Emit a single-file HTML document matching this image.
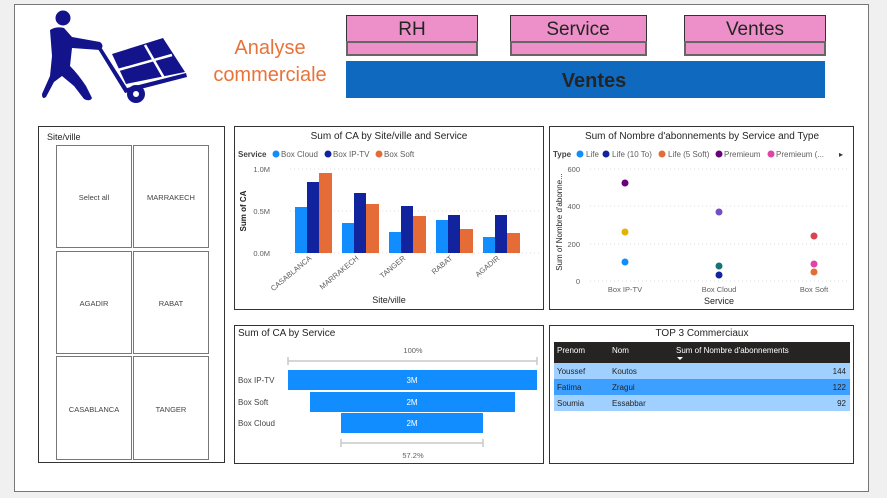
<!DOCTYPE html>
<html><head><meta charset="utf-8"><style>
html,body{margin:0;padding:0;background:#f0f0f0;}
svg{display:block;font-family:"Liberation Sans",sans-serif;}
</style></head><body>
<svg width="887" height="498" viewBox="0 0 887 498" xmlns="http://www.w3.org/2000/svg">
<rect x="0" y="0" width="887" height="498" fill="#f0f0f0"/>
<rect x="14.5" y="4.5" width="854" height="487" fill="#fff" stroke="#777" stroke-width="1"/>
<!-- icon -->
<g fill="#13138c">
<circle cx="63" cy="18" r="7.5"/>
<path d="M50 30 Q56 26 64 28 L72 37 L100 42 Q105 46 100 50 L72 48 L70 66 Q78 74 86 86 L92 98 Q90 102 84 99 L74 86 L62 76 L54 82 L46 97 Q42 100 42 94 L50 76 L52 56 Z"/>
<path d="M101 47 L127 88 L186 73 L187 77 L125 93 L98 49 Z"/>
<path d="M112 54 L163 38 L185 72 L126 84 Z"/>
<circle cx="136" cy="94" r="9"/>
</g>
<g stroke="#fff" stroke-width="2.5" fill="none">
<line x1="118" y1="70" x2="172" y2="55"/>
<line x1="145" y1="45" x2="164" y2="78"/>
</g>
<circle cx="136" cy="94" r="3" fill="#fff"/>
<text x="270" y="54" font-size="20" fill="#e8733a" text-anchor="middle">Analyse</text>
<text x="270" y="81" font-size="20" fill="#e8733a" text-anchor="middle">commerciale</text>
<!-- nav buttons -->
<g stroke="#333" stroke-width="1" fill="#ed90c9">
<rect x="346.5" y="15.5" width="131" height="26"/>
<rect x="510.5" y="15.5" width="136" height="26"/>
<rect x="684.5" y="15.5" width="141" height="26"/>
</g>
<g stroke="#666" stroke-width="2" fill="#ed90c9">
<rect x="347" y="42" width="130" height="13"/>
<rect x="511" y="42" width="135" height="13"/>
<rect x="685" y="42" width="140" height="13"/>
</g>
<g font-size="19" fill="#252423" text-anchor="middle">
<text x="412" y="35">RH</text>
<text x="578" y="35">Service</text>
<text x="755" y="35">Ventes</text>
</g>
<rect x="346" y="61" width="479" height="37" fill="#0f6abf"/>
<text x="594" y="87" font-size="20" font-weight="bold" fill="#252423" text-anchor="middle">Ventes</text>
<!-- slicer -->
<rect x="38.5" y="126.5" width="186" height="336" fill="#fff" stroke="#333"/>
<text x="47" y="140" font-size="9" fill="#252423">Site/ville</text>
<g fill="#fff" stroke="#777" stroke-width="1">
<rect x="56.5" y="145.5" width="75" height="102"/><rect x="133.5" y="145.5" width="75" height="102"/>
<rect x="56.5" y="251.5" width="75" height="102"/><rect x="133.5" y="251.5" width="75" height="102"/>
<rect x="56.5" y="356.5" width="75" height="103"/><rect x="133.5" y="356.5" width="75" height="103"/>
</g>
<g font-size="7.5" fill="#444" text-anchor="middle">
<text x="94" y="200">Select all</text><text x="171" y="200">MARRAKECH</text>
<text x="94" y="306">AGADIR</text><text x="171" y="306">RABAT</text>
<text x="94" y="412">CASABLANCA</text><text x="171" y="412">TANGER</text>
</g>
<!-- chart 1 -->
<rect x="234.5" y="126.5" width="309" height="183" fill="#fff" stroke="#333"/>
<text x="389" y="139" font-size="10" fill="#252423" text-anchor="middle">Sum of CA by Site/ville and Service</text>
<g font-size="8" fill="#605e5c">
<text x="238" y="157" font-weight="bold" fill="#444">Service</text>
<circle cx="276" cy="154" r="3.5" fill="#118dff"/><text x="281" y="157">Box Cloud</text>
<circle cx="328" cy="154" r="3.5" fill="#12239e"/><text x="333" y="157">Box IP-TV</text>
<circle cx="379" cy="154" r="3.5" fill="#e66c37"/><text x="384" y="157">Box Soft</text>
</g>
<g stroke="#ddd" stroke-dasharray="1,3"><line x1="290" y1="169" x2="540" y2="169"/><line x1="290" y1="211" x2="540" y2="211"/><line x1="290" y1="253" x2="540" y2="253"/></g>
<g font-size="7.5" fill="#605e5c" text-anchor="end"><text x="270" y="172">1.0M</text><text x="270" y="214">0.5M</text><text x="270" y="256">0.0M</text></g>
<text transform="translate(246,211) rotate(-90)" font-size="8" font-weight="bold" fill="#252423" text-anchor="middle">Sum of CA</text>
<g>
<rect x="295" y="207" width="12" height="46" fill="#118dff"/><rect x="307" y="182" width="12" height="71" fill="#12239e"/><rect x="319" y="173" width="13" height="80" fill="#e66c37"/>
<rect x="342" y="223" width="12" height="30" fill="#118dff"/><rect x="354" y="193" width="12" height="60" fill="#12239e"/><rect x="366" y="204" width="13" height="49" fill="#e66c37"/>
<rect x="389" y="232" width="12" height="21" fill="#118dff"/><rect x="401" y="206" width="12" height="47" fill="#12239e"/><rect x="413" y="216" width="13" height="37" fill="#e66c37"/>
<rect x="436" y="220" width="12" height="33" fill="#118dff"/><rect x="448" y="215" width="12" height="38" fill="#12239e"/><rect x="460" y="229" width="13" height="24" fill="#e66c37"/>
<rect x="483" y="237" width="12" height="16" fill="#118dff"/><rect x="495" y="215" width="12" height="38" fill="#12239e"/><rect x="507" y="233" width="13" height="20" fill="#e66c37"/>
</g>
<g font-size="7.5" fill="#605e5c" text-anchor="end">
<text transform="translate(312,259) rotate(-40)">CASABLANCA</text>
<text transform="translate(359,259) rotate(-40)">MARRAKECH</text>
<text transform="translate(406,259) rotate(-40)">TANGER</text>
<text transform="translate(453,259) rotate(-40)">RABAT</text>
<text transform="translate(500,259) rotate(-40)">AGADIR</text>
</g>
<text x="389" y="303" font-size="9" fill="#252423" text-anchor="middle">Site/ville</text>
<!-- chart 2 -->
<rect x="549.5" y="126.5" width="304" height="183" fill="#fff" stroke="#333"/>
<text x="702" y="139" font-size="10" fill="#252423" text-anchor="middle">Sum of Nombre d'abonnements by Service and Type</text>
<g font-size="8" fill="#605e5c">
<text x="553" y="157" font-weight="bold" fill="#444">Type</text>
<circle cx="580" cy="154" r="3.5" fill="#118dff"/><text x="586" y="157">Life</text>
<circle cx="606" cy="154" r="3.5" fill="#12239e"/><text x="612" y="157">Life (10 To)</text>
<circle cx="662" cy="154" r="3.5" fill="#e66c37"/><text x="668" y="157">Life (5 Soft)</text>
<circle cx="719" cy="154" r="3.5" fill="#6b007b"/><text x="724" y="157">Premieum</text>
<circle cx="771" cy="154" r="3.5" fill="#e044a7"/><text x="776" y="157">Premieum (...</text>
<text x="839" y="157" fill="#333">▸</text>
</g>
<g stroke="#ddd" stroke-dasharray="1,3"><line x1="590" y1="169" x2="848" y2="169"/><line x1="590" y1="206" x2="848" y2="206"/><line x1="590" y1="244" x2="848" y2="244"/><line x1="590" y1="281" x2="848" y2="281"/></g>
<g font-size="7.5" fill="#605e5c" text-anchor="end"><text x="580" y="172">600</text><text x="580" y="209">400</text><text x="580" y="247">200</text><text x="580" y="284">0</text></g>
<text transform="translate(562,222) rotate(-90)" font-size="8" fill="#252423" text-anchor="middle">Sum of Nombre d'abonne...</text>
<circle cx="625" cy="183" r="3.5" fill="#6b007b"/><circle cx="625" cy="232" r="3.5" fill="#e0b400"/><circle cx="625" cy="262" r="3.5" fill="#118dff"/>
<circle cx="719" cy="212" r="3.5" fill="#744ec2"/><circle cx="719" cy="266" r="3.5" fill="#197278"/><circle cx="719" cy="275" r="3.5" fill="#12239e"/>
<circle cx="814" cy="236" r="3.5" fill="#d64550"/><circle cx="814" cy="264" r="3.5" fill="#e044a7"/><circle cx="814" cy="272" r="3.5" fill="#e66c37"/>
<g font-size="7.5" fill="#605e5c" text-anchor="middle"><text x="625" y="292">Box IP-TV</text><text x="719" y="292">Box Cloud</text><text x="814" y="292">Box Soft</text></g>
<text x="719" y="304" font-size="9" fill="#252423" text-anchor="middle">Service</text>
<!-- funnel -->
<rect x="234.5" y="325.5" width="309" height="138" fill="#fff" stroke="#333"/>
<text x="238" y="336" font-size="10" fill="#252423">Sum of CA by Service</text>
<text x="413" y="353" font-size="7.5" fill="#605e5c" text-anchor="middle">100%</text>
<g stroke="#c8c8c8" stroke-width="1.5"><line x1="288" y1="361" x2="537" y2="361"/><line x1="288" y1="357" x2="288" y2="365"/><line x1="537" y1="357" x2="537" y2="365"/>
<line x1="341" y1="443" x2="483" y2="443"/><line x1="341" y1="439" x2="341" y2="447"/><line x1="483" y1="439" x2="483" y2="447"/></g>
<rect x="288" y="370" width="249" height="20" fill="#118dff"/>
<rect x="310" y="392" width="205" height="20" fill="#118dff"/>
<rect x="341" y="413" width="142" height="20" fill="#118dff"/>
<g font-size="8" fill="#fff" text-anchor="middle"><text x="412" y="383">3M</text><text x="412" y="405">2M</text><text x="412" y="426">2M</text></g>
<g font-size="8" fill="#444"><text x="238" y="383">Box IP-TV</text><text x="238" y="405">Box Soft</text><text x="238" y="426">Box Cloud</text></g>
<text x="413" y="458" font-size="7.5" fill="#605e5c" text-anchor="middle">57.2%</text>
<!-- table -->
<rect x="549.5" y="325.5" width="304" height="138" fill="#fff" stroke="#333"/>
<text x="702" y="336" font-size="10" fill="#252423" text-anchor="middle">TOP 3 Commerciaux</text>
<rect x="554" y="342" width="296" height="21" fill="#252423"/>
<g font-size="8" fill="#fff"><text x="557" y="353">Prenom</text><text x="612" y="353">Nom</text><text x="676" y="353">Sum of Nombre d'abonnements</text></g>
<path d="M677 357 L683 357 L680 360 Z" fill="#fff"/>
<rect x="554" y="363" width="296" height="16" fill="#9fd0ff"/>
<rect x="554" y="379" width="296" height="16" fill="#3d9fff"/>
<rect x="554" y="395" width="296" height="16" fill="#9fd0ff"/>
<g font-size="8" fill="#252423">
<text x="557" y="374">Youssef</text><text x="612" y="374">Koutos</text><text x="846" y="374" text-anchor="end">144</text>
<text x="557" y="390">Fatima</text><text x="612" y="390">Zragui</text><text x="846" y="390" text-anchor="end">122</text>
<text x="557" y="406">Soumia</text><text x="612" y="406">Essabbar</text><text x="846" y="406" text-anchor="end">92</text>
</g>
</svg>
</body></html>
